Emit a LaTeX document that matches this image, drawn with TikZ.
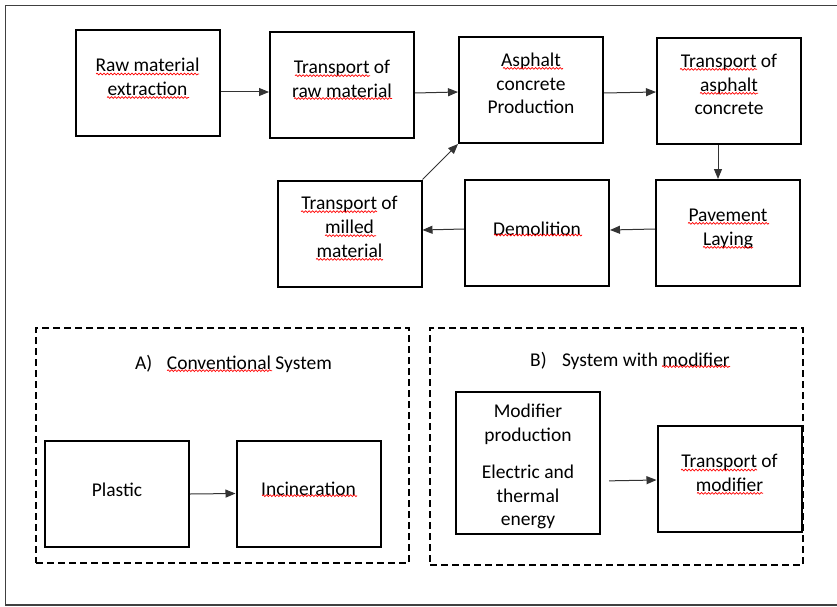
\documentclass[tikz,border=0pt]{standalone}
\usepackage{fontspec}
\setmainfont{Carlito}
\usetikzlibrary{arrows.meta,decorations.pathmorphing}
\tikzset{
  box/.style={draw, line width=2pt, minimum width=144pt, minimum height=106pt, inner sep=0pt},
  txt/.style={align=center, inner sep=0pt, font=\fontsize{19.5}{23.8}\selectfont,
              execute at begin node=\strut, execute at end node=\strut},
  ttl/.style={inner sep=0pt, anchor=base west, font=\fontsize{19.5}{23.8}\selectfont},
  arr/.style={-{Triangle[length=10pt,width=8pt]}, line width=1pt, draw=black!80},
  dbox/.style={draw, line width=2pt, dash pattern=on 7pt off 4pt, inner sep=0pt, minimum width=373pt},
  frame/.style={draw=black!75, line width=1.5pt},
  sq/.style={draw=red, line width=0.7pt, decorate,
             decoration={snake, segment length=3.5pt, amplitude=0.9pt}}
}
\begin{document}
\begin{tikzpicture}[x=1pt, y=-1pt]
\useasboundingbox (0,0) rectangle (837,607);
\draw[frame] (837,5.5) -- (5.5,5.5) -- (5.5,605) -- (837,605);

% top row
\node[box] (b1) at (147.5,83) {};
\node[box] (b2) at (342,85) {};
\node[box] (b3) at (531,90) {};
\node[box] (b4) at (729,91) {};
% second row
\node[box] (b5) at (728,233) {};
\node[box] (b6) at (537,233) {};
\node[box] (b7) at (349.5,233.5) {};

\node[txt] (t1) at (147.5,80.5) {Raw material\\extraction};
\node[txt] (t2) at (342,82) {Transport of\\raw material};
\node[txt] (t3) at (531,87) {Asphalt\\concrete\\Production};
\node[txt] (t4) at (729,88) {Transport of\\asphalt\\concrete};
\node[txt] (t5) at (728,230.5) {Pavement\\Laying};
\node[txt] (t6) at (537,230.5) {Demolition};
\node[txt] (t7) at (349.5,230.5) {Transport of\\milled\\material};

\draw[arr] ([yshift=-9pt]b1.east) -- ([yshift=-7pt]b2.west);
\draw[arr] ([yshift=-8pt]b2.east) -- ([yshift=-2pt]b3.west);
\draw[arr] ([yshift=-3pt]b3.east) -- ([yshift=-1pt]b4.west);
\draw[arr] ([xshift=-11pt]b4.south) -- ([xshift=-10pt]b5.north);
\draw[arr] ([yshift=4pt]b5.west) -- ([yshift=3pt]b6.east);
\draw[arr] ([yshift=4pt]b6.west) -- ([yshift=3.5pt]b7.east);
\draw[arr] (b7.north east) -- (b3.south west);

% A) conventional system
\node[dbox, minimum height=235pt] (dA) at (222.5,445.5) {};
\node[ttl] (tA) at (135,369.5) {A)\hspace{14.5pt}Conventional System};
\node[box] (bP) at (117,494) {};
\node[box] (bI) at (308.5,493.5) {};
\node[txt] (tP) at (117,491.5) {Plastic};
\node[txt] (tI) at (308.5,490.5) {Incineration};
\draw[arr] (bP.east) -- (bI.west);

% B) system with modifier
\node[dbox, minimum height=237pt] (dB) at (616.5,446.5) {};
\node[ttl] (tB) at (530,366.5) {B)\hspace{15.3pt}System with modifier};
\node[box, minimum height=142pt] (bM) at (528,463) {};
\node[box] (bT) at (729.5,479) {};
\node[txt] (tM) at (528,468.5) {Modifier\\production\\[13pt]Electric and\\thermal\\energy};
\node[txt] (tT) at (729.5,476.5) {Transport of\\modifier};
\draw[arr, shorten <=8pt] ([yshift=-18pt]bM.east) -- ([yshift=-1pt]bT.west);

% spell-check squiggles
\draw[sq] (96,74) -- (199,74);
\draw[sq] (107,97.5) -- (189,97.5);
\draw[sq] (295,75.7) -- (370,75.7);
\draw[sq] (294,98.5) -- (392,98.5);
\draw[sq] (503,68.3) -- (563,68.3);
\draw[sq] (680,69.3) -- (757,69.3);
\draw[sq] (700,93.3) -- (758,93.3);
\draw[sq] (688,223.3) -- (769,223.3);
\draw[sq] (703,247.3) -- (753,247.3);
\draw[sq] (494,235) -- (582,235);
\draw[sq] (301,211.7) -- (377,211.7);
\draw[sq] (325,235.7) -- (376,235.7);
\draw[sq] (316,259.3) -- (383,259.3);
\draw[sq] (167,370.7) -- (272,370.7);
\draw[sq] (262,495.7) -- (357,495.7);
\draw[sq] (662,366.5) -- (730,366.5);
\draw[sq] (681,470) -- (757,470);
\draw[sq] (697,493.3) -- (763,493.3);
\end{tikzpicture}
\end{document}
